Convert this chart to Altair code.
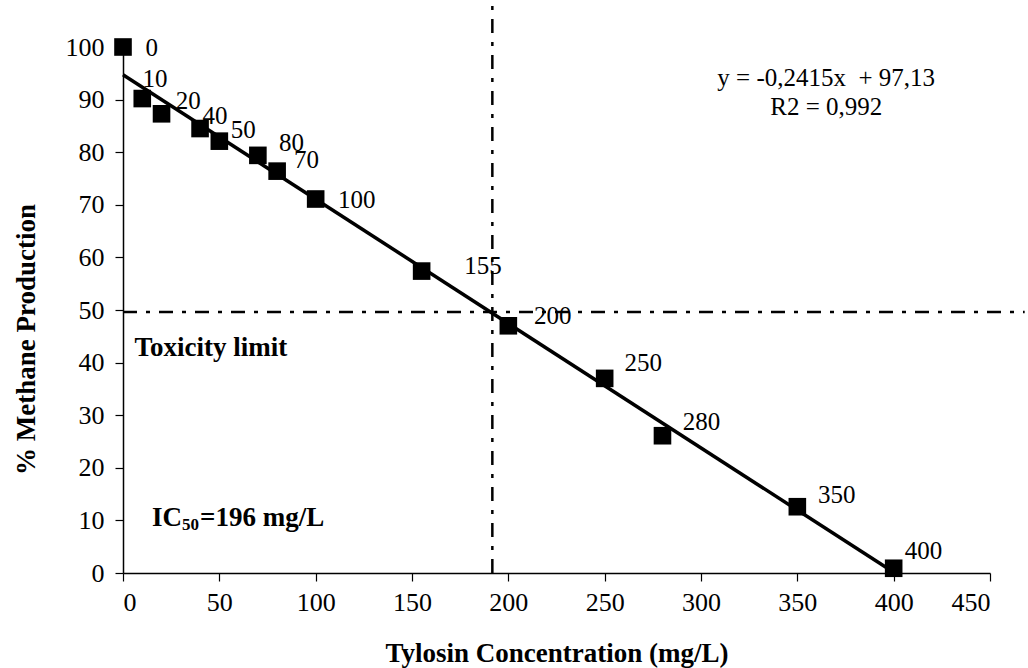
import altair as alt
import pandas as pd

# Data
conc = [0, 10, 20, 40, 50, 70, 80, 100, 155, 200, 250, 280, 350, 400]
methane = [100, 90.2, 87.3, 84.5, 82.1, 79.4, 76.4, 71.1, 57.4, 47.0, 37.0, 26.1, 12.6, 0.9]
labels = ["0", "10", "20", "40", "50", "80", "70", "100", "155", "200", "250", "280", "350", "400"]
label_x = [14.9, 16.6, 33.9, 47.7, 62.4, 87.5, 95.3, 121.3, 186.8, 223.1, 270.0, 300.3, 370.4, 415.5]
label_y = [99.9, 93.9, 89.7, 86.9, 84.3, 81.8, 78.6, 71.0, 58.3, 48.8, 39.9, 28.8, 14.8, 4.2]

ic50_x = 191.7
tox_y = 49.6

FONT = "Liberation Serif"

pts = pd.DataFrame({"conc": conc, "methane": methane})
lab = pd.DataFrame({"lx": label_x, "ly": label_y, "txt": labels})

xscale = alt.Scale(domain=[0, 450], nice=False)
yscale = alt.Scale(domain=[0, 100], nice=False)

xaxis = alt.Axis(values=list(range(0, 451, 50)), grid=False,
                 labelFont=FONT, labelFontSize=26, labelPadding=8,
                 title="Tylosin Concentration (mg/L)", titleY=80)
yaxis = alt.Axis(values=list(range(0, 101, 10)), grid=False,
                 labelFont=FONT, labelFontSize=26, labelPadding=11,
                 title="% Methane Production", titleX=-97, titleY=292, titleAngle=-90)

base = alt.Chart(pts)

fit = base.transform_regression("conc", "methane").mark_line(
    color="black", strokeWidth=3.5).encode(
    x=alt.X("conc:Q", scale=xscale, axis=xaxis),
    y=alt.Y("methane:Q", scale=yscale, axis=yaxis))

squares = base.mark_point(shape="square", filled=True, color="black", size=310,
                          opacity=1).encode(
    x=alt.X("conc:Q", scale=xscale, axis=xaxis), y=alt.Y("methane:Q", scale=yscale, axis=yaxis))

text = alt.Chart(lab).mark_text(font=FONT, fontSize=25, color="black",
                                align="center", baseline="middle").encode(
    x=alt.X("lx:Q", scale=xscale, axis=xaxis), y=alt.Y("ly:Q", scale=yscale, axis=yaxis),
    text="txt:N")

vdf = pd.DataFrame({"x": [ic50_x], "y": [0], "y2": [108]})
vline = alt.Chart(vdf).mark_rule(color="black", strokeWidth=2.5,
                                 strokeDash=[14, 9, 4, 9], clip=False).encode(
    x=alt.X("x:Q", scale=xscale, axis=xaxis), y=alt.Y("y:Q", scale=yscale, axis=yaxis),
    y2="y2:Q")

hdf = pd.DataFrame({"x": [0], "x2": [468], "y": [tox_y]})
hline = alt.Chart(hdf).mark_rule(color="black", strokeWidth=2.5,
                                 strokeDash=[14, 9, 4, 9], clip=False).encode(
    x=alt.X("x:Q", scale=xscale, axis=xaxis), x2="x2:Q",
    y=alt.Y("y:Q", scale=yscale, axis=yaxis))

ann = pd.DataFrame({
    "x": [365, 365],
    "y": [94.2, 88.6],
    "t": ["y = -0,2415x\u00a0 + 97,13", "R2 = 0,992"],
})
eq = alt.Chart(ann).mark_text(font=FONT, fontSize=25, color="black",
                              align="center", baseline="middle").encode(
    x=alt.X("x:Q", scale=xscale, axis=xaxis), y=alt.Y("y:Q", scale=yscale, axis=yaxis),
    text="t:N")

bold_ann = pd.DataFrame({
    "x": [6.0, 15.0, 30.6, 40.0],
    "y": [42.7, 10.4, 9.2, 10.4],
    "t": ["Toxicity limit", "IC", "50", "=196 mg/L"],
    "fs": [27, 27, 17, 27],
})
bold = alt.Chart(bold_ann).mark_text(font=FONT, fontWeight="bold", color="black",
                                     align="left", baseline="middle").encode(
    x=alt.X("x:Q", scale=xscale, axis=xaxis), y=alt.Y("y:Q", scale=yscale, axis=yaxis),
    text="t:N",
    size=alt.Size("fs:Q", scale=None, legend=None))

chart = alt.layer(hline, vline, fit, squares, text, eq, bold).properties(
    width=867, height=526,
    autosize=alt.AutoSizeParams(type="none"),
    padding={"left": 123, "top": 47, "right": 38, "bottom": 95},
    background="white",
).configure_view(stroke=None).configure_axis(
    domainColor="black", domainWidth=1.5, tickColor="black", tickSize=8, tickWidth=1.2,
    labelFont=FONT, labelFontSize=26, labelColor="black",
    titleFont=FONT, titleFontSize=27, titleFontWeight="bold", titleColor="black",
    titleBaseline="middle",
)

chart.save("out.html", embed_options={"renderer": "svg", "actions": False})
